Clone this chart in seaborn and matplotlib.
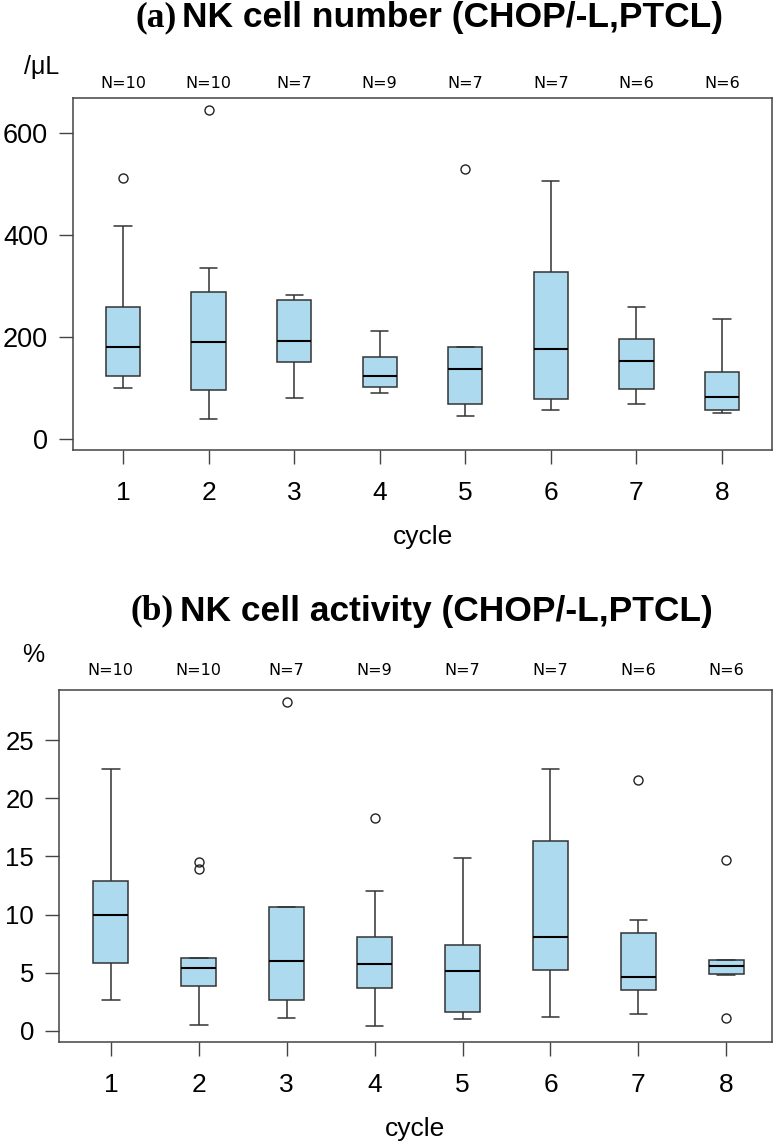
import numpy as np
import pandas as pd
import matplotlib
matplotlib.use("Agg")
import matplotlib.pyplot as plt
import seaborn as sns

# values, one list per cycle
cycles = ["1", "2", "3", "4", "5", "6", "7", "8"]

nk_number = [
    [100, 115, 120, 136, 168, 192, 250, 260, 418, 512],
    [39, 80, 92, 108, 175, 205, 282, 290, 335, 645],
    [79, 140, 162, 192, 266, 280, 282],
    [90, 96, 102, 115, 124, 140, 161, 185, 212],
    [45, 62, 76, 137, 180, 180, 529],
    [57, 70, 86, 176, 300, 354, 506],
    [69, 90, 122, 184, 200, 259],
    [51, 55, 63, 101, 140, 235],
]

nk_activity = [
    [2.7, 4.9, 5.5, 6.7, 9.4, 10.6, 12.6, 12.96, 18.0, 22.5],
    [0.55, 3.2, 3.7, 4.3, 5.2, 5.54, 6.28, 6.3, 13.9, 14.5],
    [1.12, 2.5, 2.9, 6.05, 10.65, 10.65, 28.3],
    [0.43, 2.8, 3.7, 4.9, 5.73, 7.2, 8.08, 12.0, 18.3],
    [1.06, 1.3, 1.96, 5.17, 6.4, 8.4, 14.85],
    [1.2, 4.6, 5.88, 8.08, 14.2, 18.4, 22.5],
    [1.49, 3.3, 4.1, 5.18, 9.5, 21.6],
    [1.12, 4.85, 5.05, 6.13, 6.13, 14.67],
]

number_ticks = [0, 200, 400, 600]
activity_ticks = [0, 5, 10, 15, 20, 25]

FILL = "#AEDAF0"
EDGE = "#333333"


def long_df(groups):
    return pd.DataFrame({
        "cycle": np.repeat(cycles, [len(g) for g in groups]),
        "value": np.concatenate(groups),
    })


sns.set_theme(style="ticks")
plt.rcParams["font.family"] = ["Liberation Sans", "DejaVu Sans"]
plt.rcParams["text.color"] = "black"
plt.rcParams["axes.labelcolor"] = "black"

fig = plt.figure(figsize=(7.77, 11.48), dpi=100)
W, H = 777, 1148


def px_axes(left, top, right, bottom):
    return fig.add_axes([left / W, 1 - bottom / H, (right - left) / W, (bottom - top) / H])


ax_a = px_axes(73, 98, 772, 450)
ax_b = px_axes(59, 690, 772, 1042)

panels = [
    (ax_a, nk_number, number_ticks, (-22, 668), (-0.584, 7.584), 1.04, 19.5),
    (ax_b, nk_activity, activity_ticks, (-0.95, 29.3), (-0.59, 7.52), 1.054, 18.5),
]

for ax, groups, yticks, ylim, xlim, ny, ysize in panels:
    df = long_df(groups)
    sns.boxplot(
        data=df, x="cycle", y="value", order=cycles, ax=ax,
        width=0.4, color=FILL, saturation=1, linecolor=EDGE, linewidth=1.1,
        fliersize=6.5,
        flierprops=dict(marker="o", markerfacecolor="none",
                        markeredgecolor="#222222", markeredgewidth=1.0),
        medianprops=dict(color="black", linewidth=1.5),
    )
    ax.set_ylim(*ylim)
    ax.set_xlim(*xlim)
    ax.set_yticks(yticks)
    ax.set_xlabel("cycle", fontsize=19, labelpad=15)
    ax.set_ylabel("")
    for s in ax.spines.values():
        s.set_visible(True)
        s.set_color("#444444")
        s.set_linewidth(1.1)
    ax.tick_params(axis="y", length=10, width=1, color="#444444", labelcolor="black",
                   pad=8, labelsize=ysize)
    ax.tick_params(axis="x", length=10, width=1, color="#444444", labelcolor="black",
                   pad=12, labelsize=19)
    for i, g in enumerate(groups):
        ax.text(i, ny, f"N={len(g)}", transform=ax.get_xaxis_transform(),
                ha="center", va="center", fontsize=11.5, family="DejaVu Sans")

# titles: serif panel letter + bold sans title
fig.text(177 / W, 1 - 18 / H, "(a)", family="Liberation Serif", weight="bold",
         fontsize=25.5, ha="right", va="center")
fig.text(182 / W, 1 - 18 / H, "NK cell number (CHOP/-L,PTCL)", weight="bold",
         fontsize=25.5, ha="left", va="center")
fig.text(174 / W, 1 - 611 / H, "(b)", family="Liberation Serif", weight="bold",
         fontsize=25.5, ha="right", va="center")
fig.text(180 / W, 1 - 611 / H, "NK cell activity (CHOP/-L,PTCL)", weight="bold",
         fontsize=25.5, ha="left", va="center")

# unit labels
fig.text(24 / W, 1 - 67 / H, "/μL", fontsize=18, ha="left", va="center")
fig.text(22 / W, 1 - 655 / H, "%", fontsize=18, ha="left", va="center")

fig.savefig("out.png", dpi=100)
